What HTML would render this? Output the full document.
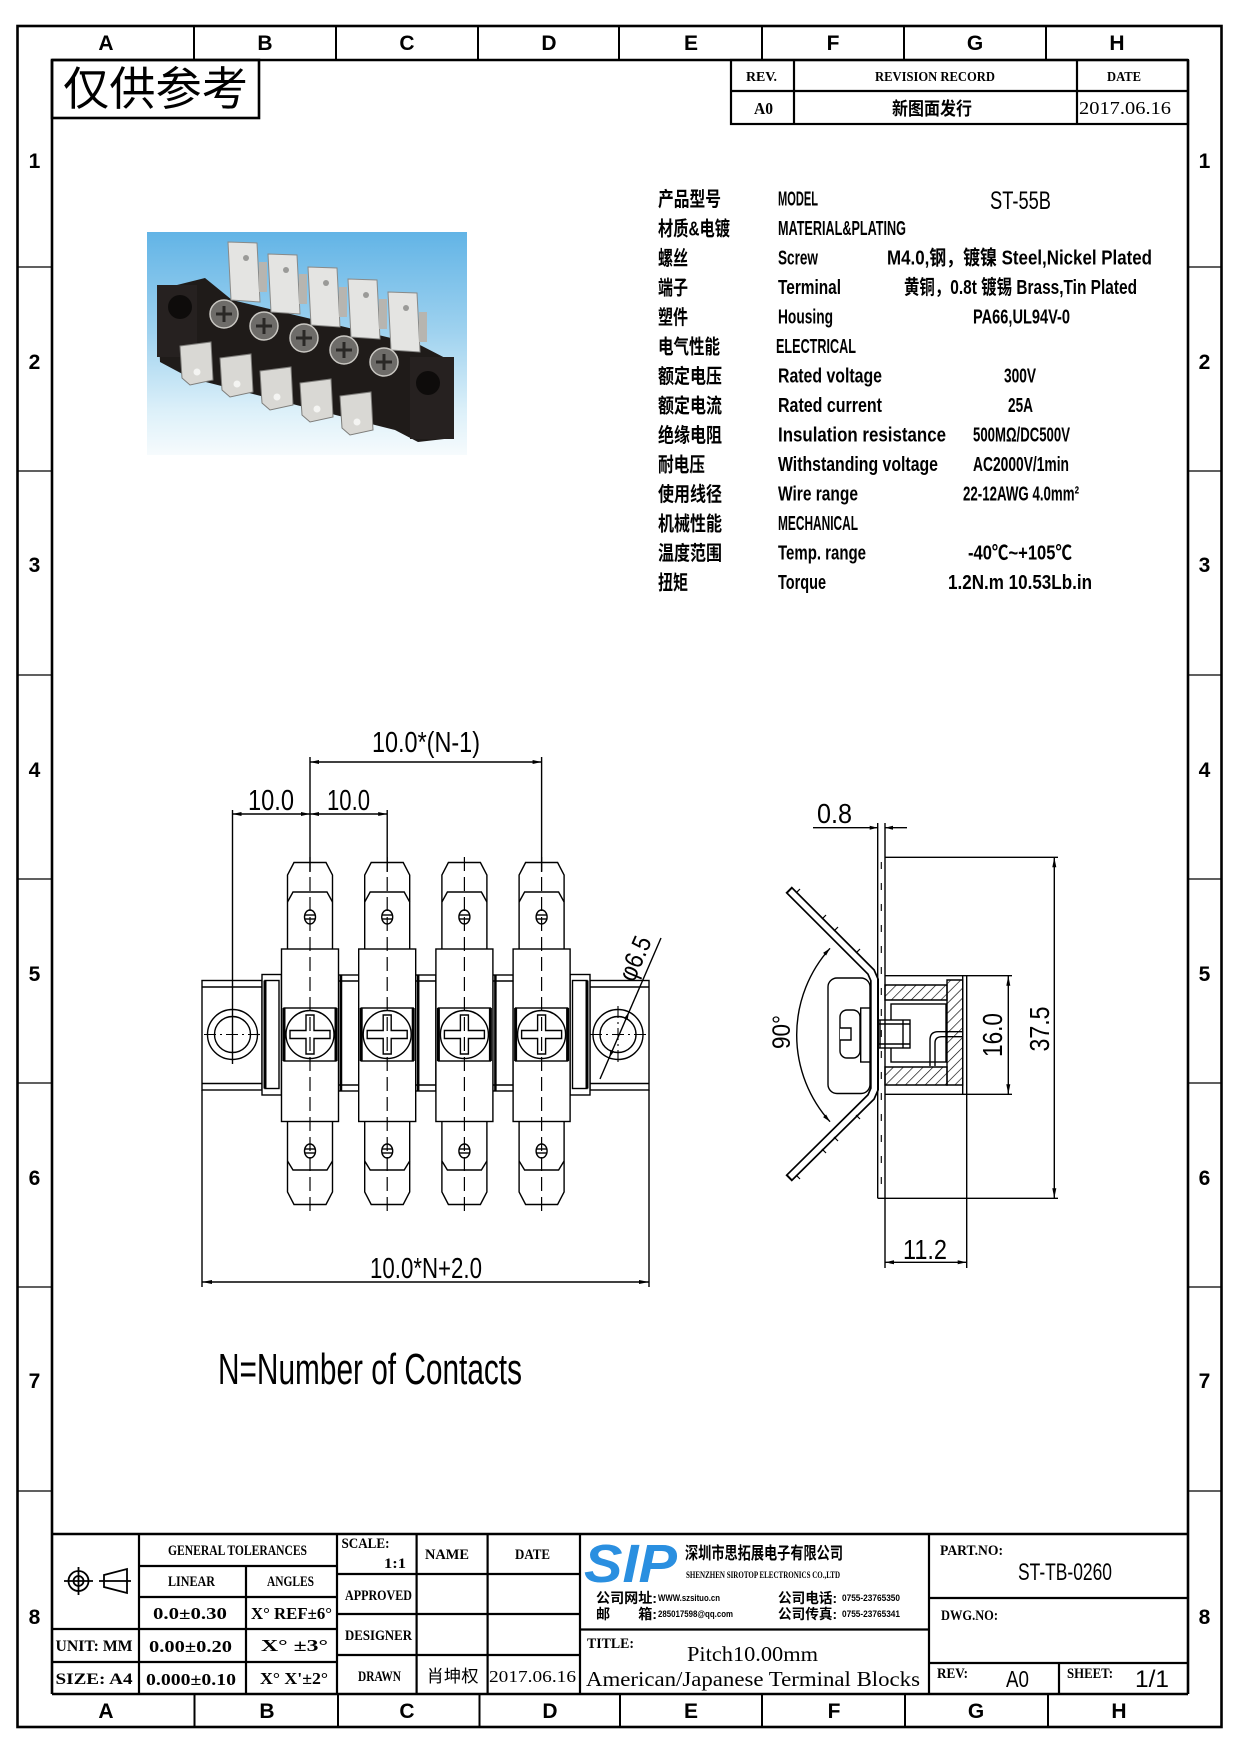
<!DOCTYPE html>
<html>
<head>
<meta charset="utf-8">
<style>
html,body{margin:0;padding:0;background:#fff;}
svg{display:block}
.n{font-family:"Liberation Sans Narrow","Liberation Sans",sans-serif;}
.nb{font-family:"Liberation Sans Narrow","Liberation Sans",sans-serif;font-weight:bold;}
.cj{font-family:"Liberation Sans","Noto Sans CJK SC",sans-serif;}
.cjb{font-family:"Liberation Sans","Noto Sans CJK SC",sans-serif;font-weight:bold;}
.sr{font-family:"Liberation Serif","Noto Serif CJK SC",serif;}
.srb{font-family:"Liberation Serif","Noto Serif CJK SC",serif;font-weight:bold;}
</style>
</head>
<body>
<svg width="1241" height="1755" viewBox="0 0 1241 1755" xmlns="http://www.w3.org/2000/svg">
<defs>
  <linearGradient id="sky" x1="0" y1="0" x2="0" y2="1">
    <stop offset="0" stop-color="#62b4e6"/>
    <stop offset="0.45" stop-color="#9fd2ef"/>
    <stop offset="0.8" stop-color="#dcf0f9"/>
    <stop offset="1" stop-color="#f6fbfd"/>
  </linearGradient>
  <pattern id="hatch" width="7" height="7" patternUnits="userSpaceOnUse" patternTransform="rotate(45)">
    <line x1="0" y1="0" x2="0" y2="7" stroke="#000" stroke-width="1.3"/>
  </pattern>
  <g id="term" fill="none" stroke="#000" stroke-width="1.4">
    <path d="M-22.5,949 V875 L-16,862.5 H16 L22.5,875 V949"/>
    <path d="M-22.5,902 L-17,892 H17 L22.5,902"/>
    <ellipse cx="0" cy="917" rx="5.5" ry="7"/>
    <line x1="-5.5" y1="915" x2="5.5" y2="915"/>
    <line x1="-5.5" y1="919" x2="5.5" y2="919"/>
    <path d="M-22.5,1121.5 V1192 L-16,1204.5 H16 L22.5,1192 V1121.5"/>
    <path d="M-22.5,1161 L-17,1170 H17 L22.5,1161"/>
    <ellipse cx="0" cy="1151" rx="5.5" ry="7"/>
    <line x1="-5.5" y1="1149" x2="5.5" y2="1149"/>
    <line x1="-5.5" y1="1153" x2="5.5" y2="1153"/>
    <rect x="-28.5" y="949" width="57" height="172.5" fill="#fff"/>
    <rect x="-26" y="1008" width="52" height="53"/>
    <line x1="-26" y1="1008" x2="-26" y2="1061" stroke-width="3"/>
    <line x1="26" y1="1008" x2="26" y2="1061" stroke-width="3"/>
    <circle cx="0" cy="1034.5" r="24"/>
    <path d="M-4,1015 H4 V1030.5 H20 V1038.5 H4 V1054 H-4 V1038.5 H-20 V1030.5 H-4 Z"/>
    <line x1="0" y1="857" x2="0" y2="1216" stroke-width="1.2" stroke-dasharray="14 6"/>
  </g>
</defs>

<!-- ================= FRAME ================= -->
<g fill="none" stroke="#000">
  <rect x="17.5" y="26" width="1204" height="1701" stroke-width="2.6"/>
  <line x1="52" y1="60" x2="52" y2="1694" stroke-width="2.6"/>
  <line x1="1188" y1="60" x2="1188" y2="1694" stroke-width="2.6"/>
  <line x1="52" y1="60" x2="1188" y2="60" stroke-width="2.6"/>
  <line x1="52" y1="1694" x2="1188" y2="1694" stroke-width="2.6"/>
  <!-- top strip dividers -->
  <g stroke-width="2">
    <line x1="194" y1="26" x2="194" y2="60"/><line x1="336" y1="26" x2="336" y2="60"/>
    <line x1="478" y1="26" x2="478" y2="60"/><line x1="619" y1="26" x2="619" y2="60"/>
    <line x1="762" y1="26" x2="762" y2="60"/><line x1="904" y1="26" x2="904" y2="60"/>
    <line x1="1046" y1="26" x2="1046" y2="60"/>
    <line x1="194.5" y1="1694" x2="194.5" y2="1727"/><line x1="338" y1="1694" x2="338" y2="1727"/>
    <line x1="479.5" y1="1694" x2="479.5" y2="1727"/><line x1="620" y1="1694" x2="620" y2="1727"/>
    <line x1="762" y1="1694" x2="762" y2="1727"/><line x1="905" y1="1694" x2="905" y2="1727"/>
    <line x1="1048" y1="1694" x2="1048" y2="1727"/>
  </g>
  <!-- side strip dividers -->
  <g stroke-width="1.3">
    <line x1="17.5" y1="267" x2="52" y2="267"/><line x1="17.5" y1="471" x2="52" y2="471"/>
    <line x1="17.5" y1="675" x2="52" y2="675"/><line x1="17.5" y1="879" x2="52" y2="879"/>
    <line x1="17.5" y1="1083" x2="52" y2="1083"/><line x1="17.5" y1="1287" x2="52" y2="1287"/>
    <line x1="17.5" y1="1491" x2="52" y2="1491"/>
    <line x1="1188" y1="267" x2="1221.5" y2="267"/><line x1="1188" y1="471" x2="1221.5" y2="471"/>
    <line x1="1188" y1="675" x2="1221.5" y2="675"/><line x1="1188" y1="879" x2="1221.5" y2="879"/>
    <line x1="1188" y1="1083" x2="1221.5" y2="1083"/><line x1="1188" y1="1287" x2="1221.5" y2="1287"/>
    <line x1="1188" y1="1491" x2="1221.5" y2="1491"/>
  </g>
</g>
<g class="nb" font-size="21" text-anchor="middle" fill="#000">
  <text x="106" y="50">A</text><text x="265" y="50">B</text><text x="407" y="50">C</text><text x="549" y="50">D</text>
  <text x="691" y="50">E</text><text x="833" y="50">F</text><text x="975" y="50">G</text><text x="1117" y="50">H</text>
  <text x="106" y="1718">A</text><text x="267" y="1718">B</text><text x="407" y="1718">C</text><text x="550" y="1718">D</text>
  <text x="691" y="1718">E</text><text x="834" y="1718">F</text><text x="976" y="1718">G</text><text x="1119" y="1718">H</text>
  <text x="34.5" y="168">1</text><text x="34.5" y="369">2</text><text x="34.5" y="572">3</text><text x="34.5" y="777">4</text>
  <text x="34.5" y="981">5</text><text x="34.5" y="1185">6</text><text x="34.5" y="1388">7</text><text x="34.5" y="1624">8</text>
  <text x="1204.5" y="168">1</text><text x="1204.5" y="369">2</text><text x="1204.5" y="572">3</text><text x="1204.5" y="777">4</text>
  <text x="1204.5" y="981">5</text><text x="1204.5" y="1185">6</text><text x="1204.5" y="1388">7</text><text x="1204.5" y="1624">8</text>
</g>

<!-- ================= NOTE BOX ================= -->
<rect x="52" y="60" width="207" height="58" fill="none" stroke="#000" stroke-width="2.6"/>
<text class="cj" x="63" y="105" font-size="46" textLength="185" lengthAdjust="spacingAndGlyphs">仅供参考</text>

<!-- ================= REVISION TABLE ================= -->
<g fill="none" stroke="#000" stroke-width="2.2">
  <rect x="731" y="60" width="457" height="64"/>
  <line x1="731" y1="91" x2="1188" y2="91"/>
  <line x1="794" y1="60" x2="794" y2="124"/>
  <line x1="1077" y1="60" x2="1077" y2="124"/>
</g>
<g fill="#000">
  <text class="srb" x="746" y="81" font-size="14" textLength="31" lengthAdjust="spacingAndGlyphs">REV.</text>
  <text class="srb" x="875" y="81" font-size="14" textLength="120" lengthAdjust="spacingAndGlyphs">REVISION RECORD</text>
  <text class="srb" x="1107" y="81" font-size="14" textLength="34" lengthAdjust="spacingAndGlyphs">DATE</text>
  <text class="srb" x="754" y="114" font-size="17" textLength="19" lengthAdjust="spacingAndGlyphs">A0</text>
  <text class="cjb" x="892" y="115" font-size="18" textLength="80" lengthAdjust="spacingAndGlyphs">新图面发行</text>
  <text class="sr" x="1079" y="114" font-size="18" textLength="92" lengthAdjust="spacingAndGlyphs">2017.06.16</text>
</g>

<!-- ================= PHOTO ================= -->
<g>
  <rect x="147" y="232" width="320" height="223" fill="url(#sky)"/>
  <!-- body -->
  <polygon points="157,290 205,278 232,300 420,345 453,362 453,438 418,442 395,430 190,378 160,362" fill="#1f1b19"/>
  <rect x="157" y="285" width="40" height="72" fill="#262120"/>
  <circle cx="180" cy="307" r="12" fill="#0e0c0b"/>
  <rect x="410" y="357" width="44" height="82" fill="#262120"/>
  <circle cx="428" cy="383" r="12" fill="#0e0c0b"/>
  <!-- upper tabs -->
  <g fill="#e4e4e2" stroke="#8a8a88" stroke-width="1">
    <polygon points="228,242 257,243 260,302 231,300"/>
    <polygon points="268,254 297,255 300,314 271,312"/>
    <polygon points="308,267 337,268 340,327 311,325"/>
    <polygon points="348,279 377,280 380,339 351,337"/>
    <polygon points="388,292 417,293 420,352 391,350"/>
  </g>
  <g fill="#b7b5b0">
    <rect x="259" y="262" width="8" height="30"/><rect x="299" y="274" width="8" height="30"/>
    <rect x="339" y="287" width="8" height="30"/><rect x="379" y="299" width="8" height="30"/>
    <rect x="419" y="312" width="8" height="30"/>
  </g>
  <g fill="#9a9a98">
    <circle cx="246" cy="258" r="3"/><circle cx="286" cy="270" r="3"/><circle cx="326" cy="283" r="3"/>
    <circle cx="366" cy="295" r="3"/><circle cx="406" cy="308" r="3"/>
  </g>
  <!-- screws -->
  <g fill="#6e6c69" stroke="#c9c7c2" stroke-width="1.5">
    <circle cx="224" cy="314" r="14"/><circle cx="264" cy="326" r="14"/><circle cx="304" cy="338" r="14"/>
    <circle cx="344" cy="350" r="14"/><circle cx="384" cy="362" r="14"/>
  </g>
  <g stroke="#2a2826" stroke-width="3">
    <path d="M216,314 H232 M224,306 V322"/><path d="M256,326 H272 M264,318 V334"/>
    <path d="M296,338 H312 M304,330 V346"/><path d="M336,350 H352 M344,342 V358"/>
    <path d="M376,362 H392 M384,354 V370"/>
  </g>
  <!-- lower tabs -->
  <g fill="#d9d8d4" stroke="#7e7d7a" stroke-width="1">
    <polygon points="180,346 211,342 213,380 190,385 182,378"/>
    <polygon points="220,358 251,354 253,392 230,397 222,390"/>
    <polygon points="260,371 291,367 293,405 270,410 262,403"/>
    <polygon points="300,383 331,379 333,417 310,422 302,415"/>
    <polygon points="340,396 371,392 373,430 350,435 342,428"/>
  </g>
  <g fill="#f4f4f2">
    <circle cx="197" cy="372" r="3.5"/><circle cx="237" cy="384" r="3.5"/><circle cx="277" cy="397" r="3.5"/>
    <circle cx="317" cy="409" r="3.5"/><circle cx="357" cy="422" r="3.5"/>
  </g>
</g>

<!-- ================= SPEC TABLE ================= -->
<g fill="#000">
  <g class="cjb" font-size="20">
    <text x="658" y="206" textLength="63" lengthAdjust="spacingAndGlyphs">产品型号</text>
    <text x="658" y="235.5" textLength="72" lengthAdjust="spacingAndGlyphs">材质&amp;电镀</text>
    <text x="658" y="265" textLength="30" lengthAdjust="spacingAndGlyphs">螺丝</text>
    <text x="658" y="294.5" textLength="30" lengthAdjust="spacingAndGlyphs">端子</text>
    <text x="658" y="324" textLength="30" lengthAdjust="spacingAndGlyphs">塑件</text>
    <text x="658" y="353.5" textLength="62" lengthAdjust="spacingAndGlyphs">电气性能</text>
    <text x="658" y="383" textLength="64" lengthAdjust="spacingAndGlyphs">额定电压</text>
    <text x="658" y="412.5" textLength="64" lengthAdjust="spacingAndGlyphs">额定电流</text>
    <text x="658" y="442" textLength="64" lengthAdjust="spacingAndGlyphs">绝缘电阻</text>
    <text x="658" y="471.5" textLength="47" lengthAdjust="spacingAndGlyphs">耐电压</text>
    <text x="658" y="501" textLength="64" lengthAdjust="spacingAndGlyphs">使用线径</text>
    <text x="658" y="530.5" textLength="64" lengthAdjust="spacingAndGlyphs">机械性能</text>
    <text x="658" y="560" textLength="64" lengthAdjust="spacingAndGlyphs">温度范围</text>
    <text x="658" y="589.5" textLength="30" lengthAdjust="spacingAndGlyphs">扭矩</text>
  </g>
  <g class="nb" font-size="20">
    <text x="778" y="205.5" textLength="40" lengthAdjust="spacingAndGlyphs">MODEL</text>
    <text x="778" y="235" textLength="128" lengthAdjust="spacingAndGlyphs">MATERIAL&amp;PLATING</text>
    <text x="778" y="264.5" textLength="40" lengthAdjust="spacingAndGlyphs">Screw</text>
    <text x="778" y="294" textLength="63" lengthAdjust="spacingAndGlyphs">Terminal</text>
    <text x="778" y="323.5" textLength="55" lengthAdjust="spacingAndGlyphs">Housing</text>
    <text x="776" y="353" textLength="80" lengthAdjust="spacingAndGlyphs">ELECTRICAL</text>
    <text x="778" y="382.5" textLength="104" lengthAdjust="spacingAndGlyphs">Rated voltage</text>
    <text x="778" y="412" textLength="104" lengthAdjust="spacingAndGlyphs">Rated current</text>
    <text x="778" y="441.5" textLength="168" lengthAdjust="spacingAndGlyphs">Insulation resistance</text>
    <text x="778" y="471" textLength="160" lengthAdjust="spacingAndGlyphs">Withstanding voltage</text>
    <text x="778" y="500.5" textLength="80" lengthAdjust="spacingAndGlyphs">Wire range</text>
    <text x="778" y="530" textLength="80" lengthAdjust="spacingAndGlyphs">MECHANICAL</text>
    <text x="778" y="559.5" textLength="88" lengthAdjust="spacingAndGlyphs">Temp. range</text>
    <text x="778" y="589" textLength="48" lengthAdjust="spacingAndGlyphs">Torque</text>
  </g>
  <text class="n" x="990" y="209" font-size="25" textLength="61" lengthAdjust="spacingAndGlyphs">ST-55B</text>
  <g class="cjb" font-size="20">
    <text x="887" y="264.5" textLength="265" lengthAdjust="spacingAndGlyphs">M4.0,钢，镀镍 Steel,Nickel Plated</text>
    <text x="904" y="294" textLength="233" lengthAdjust="spacingAndGlyphs">黄铜，0.8t 镀锡 Brass,Tin Plated</text>
    <text x="973" y="323.5" textLength="97" lengthAdjust="spacingAndGlyphs">PA66,UL94V-0</text>
    <text x="1004" y="382.5" textLength="32" lengthAdjust="spacingAndGlyphs">300V</text>
    <text x="1008" y="412" textLength="25" lengthAdjust="spacingAndGlyphs">25A</text>
    <text x="973" y="441.5" textLength="97" lengthAdjust="spacingAndGlyphs">500MΩ/DC500V</text>
    <text x="973" y="471" textLength="96" lengthAdjust="spacingAndGlyphs">AC2000V/1min</text>
    <text x="963" y="500.5" textLength="116" lengthAdjust="spacingAndGlyphs">22-12AWG 4.0mm²</text>
    <text x="968" y="559.5" textLength="104" lengthAdjust="spacingAndGlyphs">-40℃~+105℃</text>
    <text x="948" y="589" textLength="144" lengthAdjust="spacingAndGlyphs">1.2N.m  10.53Lb.in</text>
  </g>
</g>

<!-- ================= FRONT VIEW ================= -->
<g fill="none" stroke="#000" stroke-width="1.4">
  <!-- left block & spacer -->
  <rect x="202" y="980.5" width="60" height="109.5" fill="#fff"/>
  <line x1="202" y1="987" x2="262" y2="987"/>
  <line x1="202" y1="1083.5" x2="262" y2="1083.5"/>
  <rect x="262" y="974.5" width="19.5" height="120.5" fill="#fff"/>
  <rect x="265" y="980.5" width="14" height="108"/>
  <line x1="265" y1="980.5" x2="265" y2="1088.5" stroke-width="3"/>
  <!-- right block & spacer -->
  <rect x="590" y="980.5" width="59" height="109.5" fill="#fff"/>
  <line x1="590" y1="987" x2="649" y2="987"/>
  <line x1="590" y1="1083.5" x2="649" y2="1083.5"/>
  <rect x="570" y="974.5" width="20" height="120.5" fill="#fff"/>
  <rect x="572.5" y="980.5" width="14.5" height="108"/>
  <line x1="587" y1="980.5" x2="587" y2="1088.5" stroke-width="3"/>
  <!-- middle spacers -->
  <rect x="338.5" y="975" width="20.2" height="116" fill="#fff"/>
  <line x1="338.5" y1="981" x2="358.7" y2="981"/><line x1="338.5" y1="1085" x2="358.7" y2="1085"/>
  <line x1="341" y1="975" x2="341" y2="1091" stroke-width="2.5"/>
  <rect x="415.7" y="975" width="20.2" height="116" fill="#fff"/>
  <line x1="415.7" y1="981" x2="435.9" y2="981"/><line x1="415.7" y1="1085" x2="435.9" y2="1085"/>
  <line x1="418.2" y1="975" x2="418.2" y2="1091" stroke-width="2.5"/>
  <rect x="492.9" y="975" width="20.2" height="116" fill="#fff"/>
  <line x1="492.9" y1="981" x2="513.1" y2="981"/><line x1="492.9" y1="1085" x2="513.1" y2="1085"/>
  <line x1="495.4" y1="975" x2="495.4" y2="1091" stroke-width="2.5"/>
  <!-- holes -->
  <circle cx="232.5" cy="1034.5" r="25"/><circle cx="232.5" cy="1034.5" r="18"/>
  <circle cx="618" cy="1034.5" r="25"/><circle cx="618" cy="1034.5" r="18"/>
  <line x1="204" y1="1034.5" x2="261" y2="1034.5" stroke-width="1.1" stroke-dasharray="12 4 2 4"/>
  <line x1="590" y1="1034.5" x2="647" y2="1034.5" stroke-width="1.1" stroke-dasharray="12 4 2 4"/>
  <line x1="618" y1="1006" x2="618" y2="1063" stroke-width="1.1" stroke-dasharray="12 4 2 4"/>
</g>
<use href="#term" x="310"/>
<use href="#term" x="387.2"/>
<use href="#term" x="464.4"/>
<use href="#term" x="541.6"/>
<!-- dimension lines front -->
<g fill="none" stroke="#000" stroke-width="1.4">
  <line x1="310" y1="757" x2="310" y2="872"/>
  <line x1="541.6" y1="757" x2="541.6" y2="872"/>
  <line x1="387.2" y1="810" x2="387.2" y2="872"/>
  <line x1="232.5" y1="810" x2="232.5" y2="1064"/>
  <line x1="310" y1="762" x2="541.6" y2="762"/>
  <line x1="232.5" y1="814" x2="387.2" y2="814"/>
  <line x1="202" y1="1090" x2="202" y2="1287"/>
  <line x1="649" y1="1090" x2="649" y2="1287"/>
  <line x1="202" y1="1282" x2="649" y2="1282"/>
  <line x1="600" y1="1079" x2="661" y2="938"/>
</g>
<g fill="#000">
  <polygon points="310,762 319,760 319,764"/><polygon points="541.6,762 532.6,760 532.6,764"/>
  <polygon points="232.5,814 241.5,812 241.5,816"/><polygon points="310,814 301,812 301,816"/>
  <polygon points="310,814 319,812 319,816"/><polygon points="387.2,814 378.2,812 378.2,816"/>
  <polygon points="202,1282 212,1280 212,1284"/><polygon points="649,1282 639,1280 639,1284"/>
  <polygon points="629,1012 627.6,1020.1 624,1018.5"/><polygon points="609.1,1057.9 614.1,1051.4 610.5,1049.8"/>
</g>
<g class="n" fill="#000" font-size="29">
  <text x="372" y="752" textLength="108" lengthAdjust="spacingAndGlyphs">10.0*(N-1)</text>
  <text x="248" y="810" textLength="46" lengthAdjust="spacingAndGlyphs">10.0</text>
  <text x="327" y="810" textLength="43" lengthAdjust="spacingAndGlyphs">10.0</text>
  <text x="370" y="1278" textLength="112" lengthAdjust="spacingAndGlyphs">10.0*N+2.0</text>
  <text transform="translate(643,962) rotate(-66.6)" x="0" y="0" font-size="26" text-anchor="middle" textLength="46" lengthAdjust="spacingAndGlyphs">φ6.5</text>
</g>

<text class="n" x="218" y="1384" font-size="44" textLength="304" lengthAdjust="spacingAndGlyphs">N=Number of Contacts</text>

<!-- ================= SIDE VIEW ================= -->
<g fill="none" stroke="#000" stroke-width="1.4">
  <!-- hatched housing section -->
  <path d="M885,985 H947 V1000 H885 Z" fill="url(#hatch)"/>
  <path d="M947,980 H962.7 V1085 H947 Z" fill="url(#hatch)"/>
  <path d="M885,1067 H947 V1085 H885 Z" fill="url(#hatch)"/>
  <rect x="891" y="1004" width="55" height="58"/>
  <line x1="885" y1="975.7" x2="1012" y2="975.7"/>
  <line x1="885" y1="1094.3" x2="1012" y2="1094.3"/>
  <line x1="962.7" y1="975.7" x2="962.7" y2="1094.3"/>
  <line x1="966.7" y1="975.7" x2="966.7" y2="1268"/>
  <!-- terminal contact -->
  <path d="M930,1066 V1040 Q930,1031.7 938,1031.7 H962.7"/>
  <path d="M935,1066 V1043 Q935,1036.7 942,1036.7 H962.7"/>
  <!-- screw thread -->
  <rect x="873" y="1020" width="37" height="28" fill="#fff"/>
  <line x1="873" y1="1024" x2="910" y2="1024"/>
  <line x1="873" y1="1044" x2="910" y2="1044"/>
  <line x1="880" y1="1020" x2="880" y2="1048"/>
  <line x1="903" y1="1020" x2="903" y2="1048"/>
  <!-- bent arms -->
  <path d="M788.6,889.6 L871,972 L874.5,980 V1089 L871,1097 L788.6,1178.4" stroke-width="9"/>
  <path d="M790,891 L871,972 L874.5,980 V1089 L871,1097 L790,1177" stroke="#fff" stroke-width="5.6"/>
  <g stroke-width="1.2">
    <line x1="796" y1="893" x2="800" y2="889"/><line x1="822" y1="919" x2="826" y2="915"/>
    <line x1="834" y1="931" x2="838" y2="927"/><line x1="856" y1="953" x2="860" y2="949"/>
    <line x1="796" y1="1175" x2="800" y2="1179"/><line x1="822" y1="1149" x2="826" y2="1153"/>
    <line x1="834" y1="1137" x2="838" y2="1141"/><line x1="856" y1="1115" x2="860" y2="1119"/>
  </g>
  <!-- screw head -->
  <rect x="828" y="978" width="42" height="115.5" rx="9" fill="#fff"/>
  <rect x="860.7" y="1008" width="9.3" height="54" fill="#fff"/>
  <rect x="840" y="1010" width="20" height="48" rx="7" fill="#fff"/>
  <path d="M840,1028 H851 V1040 H840" fill="#fff"/>
  <!-- plate -->
  <line x1="877.7" y1="823" x2="877.7" y2="1198.3"/>
  <line x1="885" y1="823" x2="885" y2="1268"/>
  <line x1="881.3" y1="862" x2="881.3" y2="1195" stroke-width="1.1" stroke-dasharray="7 14"/>
  <line x1="885" y1="857.3" x2="1058" y2="857.3"/>
  <line x1="877.7" y1="1198.3" x2="1058" y2="1198.3"/>
  <!-- dims -->
  <line x1="813" y1="827.7" x2="877.7" y2="827.7"/>
  <line x1="885" y1="827.7" x2="907" y2="827.7"/>
  <line x1="1054.3" y1="857.3" x2="1054.3" y2="1198.3"/>
  <line x1="1008.3" y1="975.7" x2="1008.3" y2="1094.3"/>
  <line x1="885" y1="1262.3" x2="966.7" y2="1262.3"/>
  <path d="M830,948.3 A129.5,129.5 0 0 0 830,1121.7"/>
</g>
<g fill="#000">
  <polygon points="877.7,827.7 869.7,825.7 869.7,829.7"/><polygon points="885,827.7 893,825.7 893,829.7"/>
  <polygon points="1054.3,857.3 1052.3,867.3 1056.3,867.3"/><polygon points="1054.3,1198.3 1052.3,1188.3 1056.3,1188.3"/>
  <polygon points="1008.3,975.7 1006.3,985.7 1010.3,985.7"/><polygon points="1008.3,1094.3 1006.3,1084.3 1010.3,1084.3"/>
  <polygon points="885,1262.3 894,1260.3 894,1264.3"/><polygon points="966.7,1262.3 957.7,1260.3 957.7,1264.3"/>
  <polygon points="830,948.3 826.1,955.5 823.1,952.9"/><polygon points="830,1121.7 823.1,1117.1 826.1,1114.5"/>
</g>
<g class="n" fill="#000" font-size="28">
  <text x="817" y="823" textLength="35" lengthAdjust="spacingAndGlyphs">0.8</text>
  <text x="903" y="1259" textLength="44" lengthAdjust="spacingAndGlyphs">11.2</text>
  <text transform="translate(1049,1029) rotate(-90)" x="0" y="0" text-anchor="middle" textLength="45" lengthAdjust="spacingAndGlyphs">37.5</text>
  <text transform="translate(1002,1035) rotate(-90)" x="0" y="0" text-anchor="middle" textLength="44" lengthAdjust="spacingAndGlyphs">16.0</text>
  <text transform="translate(790,1032) rotate(-90)" x="0" y="0" font-size="25" text-anchor="middle" textLength="34" lengthAdjust="spacingAndGlyphs">90°</text>
</g>

<!-- ================= TITLE BLOCK ================= -->
<g fill="none" stroke="#000" stroke-width="2.2">
  <line x1="52" y1="1534" x2="1188" y2="1534" stroke-width="2.6"/>
  <line x1="139" y1="1534" x2="139" y2="1694"/>
  <line x1="246" y1="1566" x2="246" y2="1694"/>
  <line x1="337" y1="1534" x2="337" y2="1694"/>
  <line x1="139" y1="1566" x2="337" y2="1566"/>
  <line x1="139" y1="1597" x2="337" y2="1597"/>
  <line x1="52" y1="1629" x2="337" y2="1629"/>
  <line x1="52" y1="1662" x2="337" y2="1662"/>
  <line x1="416.6" y1="1534" x2="416.6" y2="1694"/>
  <line x1="487.6" y1="1534" x2="487.6" y2="1694"/>
  <line x1="580" y1="1534" x2="580" y2="1694"/>
  <line x1="337" y1="1574" x2="580" y2="1574"/>
  <line x1="337" y1="1614" x2="580" y2="1614"/>
  <line x1="337" y1="1655" x2="580" y2="1655"/>
  <line x1="580" y1="1629.5" x2="929" y2="1629.5"/>
  <line x1="929" y1="1534" x2="929" y2="1694"/>
  <line x1="929" y1="1598" x2="1188" y2="1598"/>
  <line x1="929" y1="1663" x2="1188" y2="1663"/>
  <line x1="1059" y1="1663" x2="1059" y2="1694"/>
</g>
<!-- projection symbol -->
<g fill="none" stroke="#000" stroke-width="1.8">
  <circle cx="78.5" cy="1581" r="10"/>
  <circle cx="78.5" cy="1581" r="5"/>
  <line x1="64" y1="1581" x2="93" y2="1581"/>
  <line x1="78.5" y1="1567" x2="78.5" y2="1595"/>
  <polygon points="104,1575 127,1569 127,1593 104,1587"/>
  <line x1="99" y1="1581" x2="131" y2="1581"/>
</g>
<g class="srb" fill="#000" font-size="15">
  <text x="168" y="1555" textLength="139" lengthAdjust="spacingAndGlyphs">GENERAL TOLERANCES</text>
  <text x="168" y="1586" textLength="47" lengthAdjust="spacingAndGlyphs">LINEAR</text>
  <text x="267" y="1586" textLength="47" lengthAdjust="spacingAndGlyphs">ANGLES</text>
  <text x="153" y="1619" font-size="17" textLength="74" lengthAdjust="spacingAndGlyphs">0.0±0.30</text>
  <text x="251" y="1619" font-size="17" textLength="81" lengthAdjust="spacingAndGlyphs">X° REF±6°</text>
  <text x="55.5" y="1651" font-size="16" textLength="77" lengthAdjust="spacingAndGlyphs">UNIT: MM</text>
  <text x="149" y="1652" font-size="17" textLength="83" lengthAdjust="spacingAndGlyphs">0.00±0.20</text>
  <text x="261" y="1651" font-size="17" textLength="67" lengthAdjust="spacingAndGlyphs">X° ±3°</text>
  <text x="55.5" y="1684" font-size="16" textLength="77" lengthAdjust="spacingAndGlyphs">SIZE: A4</text>
  <text x="146" y="1685" font-size="17" textLength="90" lengthAdjust="spacingAndGlyphs">0.000±0.10</text>
  <text x="260" y="1684" font-size="17" textLength="68" lengthAdjust="spacingAndGlyphs">X° X'±2°</text>
  <text x="341.5" y="1548" textLength="48" lengthAdjust="spacingAndGlyphs">SCALE:</text>
  <text x="384" y="1568" textLength="22" lengthAdjust="spacingAndGlyphs">1:1</text>
  <text x="425" y="1559" textLength="44" lengthAdjust="spacingAndGlyphs">NAME</text>
  <text x="515" y="1559" textLength="35" lengthAdjust="spacingAndGlyphs">DATE</text>
  <text x="345" y="1600" textLength="67" lengthAdjust="spacingAndGlyphs">APPROVED</text>
  <text x="345" y="1640" textLength="67" lengthAdjust="spacingAndGlyphs">DESIGNER</text>
  <text x="358" y="1681" textLength="43" lengthAdjust="spacingAndGlyphs">DRAWN</text>
</g>
<text class="cj" x="426.6" y="1682" font-size="17" fill="#000" textLength="52" lengthAdjust="spacingAndGlyphs">肖坤权</text>
<text class="sr" x="489" y="1682" font-size="17" fill="#000" textLength="87" lengthAdjust="spacingAndGlyphs">2017.06.16</text>

<!-- logo block -->
<text x="584" y="1582" font-family="Liberation Sans, sans-serif" font-weight="bold" font-style="italic" font-size="54" fill="#2a8fe0" textLength="93" lengthAdjust="spacingAndGlyphs">SIP</text>
<text class="cjb" x="685" y="1559" font-size="17" fill="#000" textLength="158" lengthAdjust="spacingAndGlyphs">深圳市思拓展电子有限公司</text>
<text class="srb" x="686" y="1578" font-size="9" fill="#000" textLength="154" lengthAdjust="spacingAndGlyphs">SHENZHEN SIROTOP ELECTRONICS CO.,LTD</text>
<g fill="#000">
  <text class="cjb" x="596" y="1603" font-size="14" textLength="61" lengthAdjust="spacingAndGlyphs">公司网址:</text>
  <text class="nb" x="658" y="1601" font-size="9" textLength="62" lengthAdjust="spacingAndGlyphs">WWW.szsituo.cn</text>
  <text class="cjb" x="596" y="1619" font-size="14" textLength="61" lengthAdjust="spacingAndGlyphs">邮　　箱:</text>
  <text class="nb" x="658" y="1617" font-size="9" textLength="75" lengthAdjust="spacingAndGlyphs">285017598@qq.com</text>
  <text class="cjb" x="778" y="1603" font-size="14" textLength="59" lengthAdjust="spacingAndGlyphs">公司电话:</text>
  <text class="nb" x="842" y="1601" font-size="9" textLength="58" lengthAdjust="spacingAndGlyphs">0755-23765350</text>
  <text class="cjb" x="778" y="1619" font-size="14" textLength="59" lengthAdjust="spacingAndGlyphs">公司传真:</text>
  <text class="nb" x="842" y="1617" font-size="9" textLength="58" lengthAdjust="spacingAndGlyphs">0755-23765341</text>
</g>
<g class="sr" fill="#000">
  <text class="srb" x="587" y="1648" font-size="15" textLength="47" lengthAdjust="spacingAndGlyphs">TITLE:</text>
  <text x="687" y="1661" font-size="21" textLength="131" lengthAdjust="spacingAndGlyphs">Pitch10.00mm</text>
  <text x="586" y="1686" font-size="21" textLength="334" lengthAdjust="spacingAndGlyphs">American/Japanese Terminal Blocks</text>
</g>
<!-- right block -->
<g fill="#000">
  <text class="srb" x="940" y="1555" font-size="15" textLength="63" lengthAdjust="spacingAndGlyphs">PART.NO:</text>
  <text class="n" x="1018" y="1580" font-size="24" textLength="94" lengthAdjust="spacingAndGlyphs">ST-TB-0260</text>
  <text class="srb" x="941" y="1620" font-size="15" textLength="57" lengthAdjust="spacingAndGlyphs">DWG.NO:</text>
  <text class="srb" x="937" y="1678" font-size="15" textLength="31" lengthAdjust="spacingAndGlyphs">REV:</text>
  <text class="n" x="1006" y="1687" font-size="23" textLength="23" lengthAdjust="spacingAndGlyphs">A0</text>
  <text class="srb" x="1067" y="1678" font-size="15" textLength="46" lengthAdjust="spacingAndGlyphs">SHEET:</text>
  <text class="n" x="1135" y="1687" font-size="24" textLength="34" lengthAdjust="spacingAndGlyphs">1/1</text>
</g>
</svg>
</body>
</html>
